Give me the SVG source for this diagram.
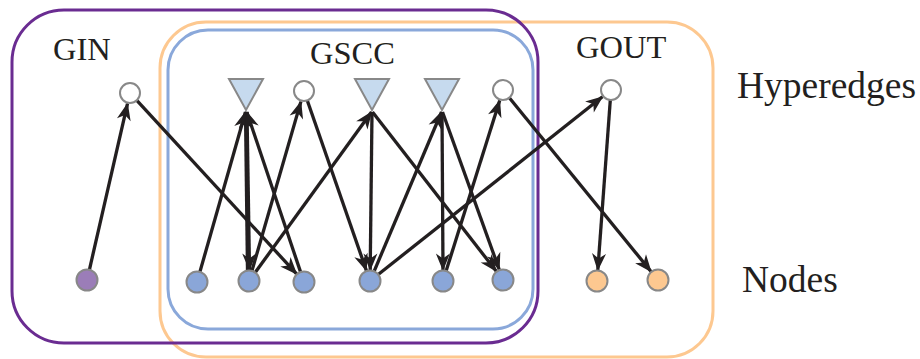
<svg xmlns="http://www.w3.org/2000/svg" width="920" height="359" viewBox="0 0 920 359">
  <style>
    .label { font-family: "Liberation Serif", "Times New Roman", serif; fill: #231f20; }
    .grp { font-size: 32.5px; }
    .row { font-size: 37.5px; }
    .box { fill: none; stroke-width: 3; }
    .arrow { stroke: #231f20; stroke-width: 3.3; fill: none; marker-end: url(#head); }
    .hcirc { fill: #ffffff; stroke: #888888; stroke-width: 2; }
    .htri { fill: #c6daee; stroke: #888888; stroke-width: 2; stroke-linejoin: miter; }
    .node { stroke: #888888; stroke-width: 2; }
    .scc { fill: #8aa6d8; }
    .in { fill: #9b7db8; }
    .out { fill: #fdc890; }
  </style>
  <defs>
    <marker id="head" markerUnits="userSpaceOnUse" markerWidth="22" markerHeight="18" viewBox="-18 -9 20 18" refX="0" refY="0" orient="auto">
      <path d="M1,0 L-16.5,-7 L-11.5,0 L-16.5,7 Z" fill="#231f20"/>
    </marker>
  </defs>

  <rect width="920" height="359" fill="#ffffff"/>

  <!-- component outlines -->
  <g id="components">
    <rect id="gout-box" class="box" x="160" y="22" width="553" height="335" rx="46" stroke="#fdc890"/>
    <rect id="gscc-box" class="box" x="168" y="30" width="365" height="299" rx="40" stroke="#8aa8da"/>
    <rect id="gin-box" class="box" x="12" y="10" width="526" height="333" rx="52" stroke="#6a2c91"/>
  </g>

  <!-- component and row labels -->
  <g id="labels">
    <text class="label grp" x="53" y="60">GIN</text>
    <text class="label grp" x="310" y="64">GSCC</text>
    <text class="label grp" x="576" y="58">GOUT</text>
    <text class="label row" x="737" y="98">Hyperedges</text>
    <text class="label row" x="742" y="292">Nodes</text>
  </g>

  <!-- directed incidences between nodes and hyperedges -->
  <g id="connectors">
    <line class="arrow" x1="89.4" y1="269.8" x2="127.5" y2="103.7"/>
    <line class="arrow" x1="136.8" y1="100.4" x2="296.6" y2="273.9"/>
    <line class="arrow" x1="199.9" y1="271.9" x2="245.5" y2="112"/>
    <line class="arrow" x1="247.5" y1="270.5" x2="245.5" y2="112"/>
    <line class="arrow" x1="247" y1="112" x2="249.5" y2="270"/>
    <line class="arrow" x1="300.6" y1="272.1" x2="246.8" y2="112"/>
    <line class="arrow" x1="251.9" y1="270.9" x2="300.9" y2="101.6"/>
    <line class="arrow" x1="307.3" y1="100.5" x2="366.4" y2="270.6"/>
    <line class="arrow" x1="255.2" y1="272.5" x2="371.5" y2="112"/>
    <line class="arrow" x1="372" y1="112" x2="370.2" y2="270"/>
    <line class="arrow" x1="372.5" y1="112" x2="496.3" y2="271.3"/>
    <line class="arrow" x1="374.1" y1="271.3" x2="441.5" y2="112"/>
    <line class="arrow" x1="442" y1="112" x2="443" y2="270"/>
    <line class="arrow" x1="442.5" y1="112" x2="499.3" y2="269.7"/>
    <line class="arrow" x1="446.1" y1="271" x2="499.7" y2="100.5"/>
    <line class="arrow" x1="509.3" y1="97.8" x2="651" y2="271.5"/>
    <line class="arrow" x1="378.2" y1="274.5" x2="602.4" y2="96.8"/>
    <line class="arrow" x1="610.3" y1="100" x2="597.8" y2="270"/>
  </g>

  <!-- hyperedges -->
  <g id="h1"><circle class="hcirc" cx="130" cy="93" r="10"/></g>
  <g id="t1"><polygon class="htri" points="229,79 263,79 246,110"/></g>
  <g id="h2"><circle class="hcirc" cx="304" cy="91" r="10"/></g>
  <g id="t2"><polygon class="htri" points="355,79 389,79 372,110"/></g>
  <g id="t3"><polygon class="htri" points="425,79 459,79 442,110"/></g>
  <g id="h3"><circle class="hcirc" cx="503" cy="90" r="10"/></g>
  <g id="h4"><circle class="hcirc" cx="611" cy="90" r="10"/></g>

  <!-- nodes -->
  <g id="n0"><circle class="node in" cx="87" cy="280" r="10.5"/></g>
  <g id="n1"><circle class="node scc" cx="197" cy="282" r="10.5"/></g>
  <g id="n2"><circle class="node scc" cx="249" cy="281" r="10.5"/></g>
  <g id="n3"><circle class="node scc" cx="304" cy="282" r="10.5"/></g>
  <g id="n4"><circle class="node scc" cx="370" cy="281" r="10.5"/></g>
  <g id="n5"><circle class="node scc" cx="443" cy="281" r="10.5"/></g>
  <g id="n6"><circle class="node scc" cx="503" cy="280" r="10.5"/></g>
  <g id="n7"><circle class="node out" cx="597" cy="281" r="10.5"/></g>
  <g id="n8"><circle class="node out" cx="658" cy="280" r="10.5"/></g>
</svg>
